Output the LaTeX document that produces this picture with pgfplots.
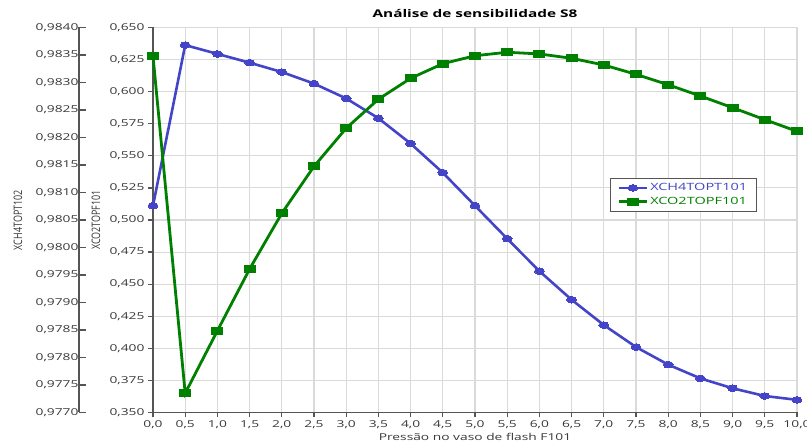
\documentclass[border=0pt]{standalone}
\usepackage{fontspec}
\setmainfont{Open Sans}[FakeStretch=1.45]
\newfontfamily\rotfont{Open Sans}
\usepackage{pgfplots}
\pgfplotsset{compat=1.18}
\definecolor{chblue}{RGB}{68,68,200}
\definecolor{cogreen}{RGB}{0,128,0}
\definecolor{axgray}{RGB}{85,85,85}
\definecolor{txtgray}{RGB}{55,55,60}
\definecolor{gridgray}{RGB}{218,218,218}

% XCO2TOPF101 (inner axis, 0.350-0.650)
\pgfplotstableread{
x y
0.0 0.6278
0.5 0.3650
1.0 0.4137
1.5 0.4618
2.0 0.5052
2.5 0.5418
3.0 0.5715
3.5 0.5941
4.0 0.6104
4.5 0.6218
5.0 0.6280
5.5 0.6307
6.0 0.6294
6.5 0.6260
7.0 0.6208
7.5 0.6135
8.0 0.6054
8.5 0.5966
9.0 0.5875
9.5 0.5782
10.0 0.5691
}\cotable

% XCH4TOPT101 (outer axis, 0.9770-0.9840)
\pgfplotstableread{
x y
0.0 0.98076
0.5 0.98368
1.0 0.98352
1.5 0.98336
2.0 0.98319
2.5 0.98298
3.0 0.98271
3.5 0.98235
4.0 0.98189
4.5 0.98136
5.0 0.98076
5.5 0.98016
6.0 0.97957
6.5 0.97905
7.0 0.97859
7.5 0.97819
8.0 0.97787
8.5 0.97762
9.0 0.97744
9.5 0.97730
10.0 0.97723
}\chtable

\pgfplotsset{
 chstyle/.style={chblue, line width=2.6pt, mark=*, mark size=3.3pt,
   mark options={solid, xscale=1.5, fill=chblue, draw=chblue, line width=0pt}},
 costyle/.style={cogreen, line width=2.8pt, mark=square*, mark size=3.5pt,
   mark options={solid, xscale=1.55, fill=cogreen, draw=cogreen, line width=0pt}},
}

\begin{document}
\begin{tikzpicture}[x=1pt,y=1pt]
\path[use as bounding box] (-153,-30.5) rectangle (654,412.5);

% grid, x axis, inner y axis, legend
\begin{axis}[at={(0,0)}, anchor=south west, scale only axis,
 width=644pt, height=385pt,
 xmin=0, xmax=10, ymin=0.35, ymax=0.65,
 axis x line*=bottom, axis y line*=left,
 axis line style={-, axgray, line width=1.6pt},
 xtick={0,0.5,1,1.5,2,2.5,3,3.5,4,4.5,5,5.5,6,6.5,7,7.5,8,8.5,9,9.5,10},
 ytick={0.35,0.375,0.4,0.425,0.45,0.475,0.5,0.525,0.55,0.575,0.6,0.625,0.65},
 grid=major, major grid style={gridgray, line width=1.1pt},
 tick align=outside, major tick length=5pt,
 tick style={axgray, line width=1.2pt},
 /pgf/number format/assume math mode=true,
 xticklabel style={font=\fontsize{9.5}{11}\selectfont, text=txtgray,
   /pgf/number format/.cd, fixed, fixed zerofill, precision=1, use comma},
 yticklabel style={font=\fontsize{9.5}{11}\selectfont, text=txtgray,
   /pgf/number format/.cd, fixed, fixed zerofill, precision=3, use comma},
 xlabel={Pressão no vaso de flash F101},
 xlabel style={at={(axis description cs:0.5,0)}, anchor=center, yshift=-24.5pt,
   font=\fontsize{9.5}{11}\selectfont, text=txtgray},
 ylabel={XCO2TOPF101},
 ylabel style={at={(axis description cs:-0.0885,0.5)}, anchor=center, yscale=1.3,
   font=\rotfont\fontsize{9}{10}\selectfont, text=txtgray},
 title={Análise de sensibilidade S8},
 title style={at={(axis description cs:0.5,1.0195)}, anchor=center,
   font=\bfseries\fontsize{10.6}{12}\selectfont},
 legend style={at={(rel axis cs:0.938,0.609)}, anchor=north east,
   draw=axgray, line width=0.9pt, fill=white, inner xsep=7.5pt, inner ysep=3pt,
   font=\fontsize{10}{11}\selectfont, row sep=1pt},
 legend cell align=left,
 legend image code/.code={\draw[mark repeat=2,mark phase=2]
   plot coordinates {(0pt,0pt)(14pt,0pt)(28pt,0pt)};},
]
\addlegendimage{chstyle}
\addlegendentry{\textcolor{chblue}{XCH4TOPT101}}
\addlegendimage{costyle}
\addlegendentry{\textcolor{cogreen}{XCO2TOPF101}}
\end{axis}

% outer y axis with XCH4TOPT101
\begin{axis}[at={(-74pt,0)}, anchor=south west, scale only axis,
 width=718pt, height=385pt,
 xmin=-1.14907, xmax=10, ymin=0.977, ymax=0.984,
 hide x axis, axis y line*=left, clip=false,
 axis line style={-, axgray, line width=1.6pt},
 ytick={0.977,0.9775,0.978,0.9785,0.979,0.9795,0.98,0.9805,0.981,0.9815,0.982,0.9825,0.983,0.9835,0.984},
 tick align=inside, major tick length=7pt,
 tick style={axgray, line width=1.2pt},
 /pgf/number format/assume math mode=true,
 yticklabel style={font=\fontsize{9.5}{11}\selectfont, text=txtgray, xshift=3pt,
   /pgf/number format/.cd, fixed, fixed zerofill, precision=4, use comma},
 scaled y ticks=false,
 ylabel={XCH4TOPT102},
 ylabel style={at={(axis description cs:-0.085,0.5)}, anchor=center, yscale=1.3,
   font=\rotfont\fontsize{9}{10}\selectfont, text=txtgray},
]
\addplot[chstyle] table[x=x,y=y] {\chtable};
\end{axis}

% green series on top
\begin{axis}[at={(0,0)}, anchor=south west, scale only axis,
 width=644pt, height=385pt,
 xmin=0, xmax=10, ymin=0.35, ymax=0.65,
 hide axis, clip=false]
\addplot[costyle] table[x=x,y=y] {\cotable};
\end{axis}
\end{tikzpicture}
\end{document}
